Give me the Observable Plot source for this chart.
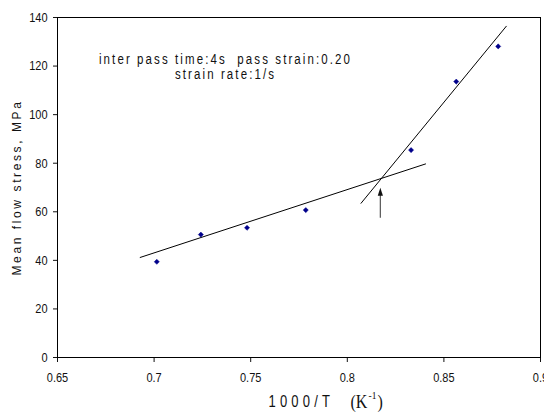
<!DOCTYPE html>
<html>
<head>
<meta charset="utf-8">
<script src="https://cdn.jsdelivr.net/npm/d3@7"></script>
<script src="https://cdn.jsdelivr.net/npm/@observablehq/plot@0.6"></script>
<style>
  html, body { margin: 0; padding: 0; background: #fff; }
  #chart { width: 544px; height: 414px; overflow: hidden; }
</style>
</head>
<body>
<div id="chart"></div>
<script>
// ---- data ----
const invT   = [0.7014, 0.7242, 0.7481, 0.7785, 0.833, 0.8564, 0.8781]; // 1000/T (K^-1)
const stress = [39.4, 50.6, 53.4, 60.7, 85.4, 113.6, 128.1];           // MPa
const fitLowX  = [0.6928, 0.8405];
const fitLowY  = [41.2, 79.7];
const fitHighX = [0.8071, 0.8823];
const fitHighY = [63.5, 136.4];
const arrowX = [0.8171, 0.8171];   // tail, tip
const arrowY = [57.5, 69.8];
const xTicks = [0.65, 0.7, 0.75, 0.8, 0.85, 0.9];
const yTicks = [0, 20, 40, 60, 80, 100, 120, 140];
const annotLines = ["inter pass time:4s  pass strain:0.20", "strain rate:1/s"];
const yLabel = "Mean flow stress, MPa";
const xTitleMain = "1000/T";

const SANS = "'Liberation Sans', Arial, sans-serif";
const SERIF = "'Liberation Serif', 'Times New Roman', serif";

const points = invT.map((x, i) => ({x, y: stress[i]}));
const lowLine = fitLowX.map((x, i) => ({x, y: fitLowY[i]}));
const highLine = fitHighX.map((x, i) => ({x, y: fitHighY[i]}));

// narrow filled triangle for the arrow head (tip at top)
const headSymbol = {
  draw(ctx) {
    ctx.moveTo(0, -4.5);
    ctx.lineTo(2.6, 3.5);
    ctx.lineTo(-2.6, 3.5);
    ctx.closePath();
  }
};

const frameCx = (57 + 540) / 2;

const chart = Plot.plot({
  width: 544,
  height: 414,
  marginLeft: 57,
  marginRight: 4,
  marginTop: 17,
  marginBottom: 57,
  style: {fontFamily: SANS, fontSize: "11px", color: "#111", background: "#fff", overflow: "visible"},
  x: {domain: [0.65, 0.9]},
  y: {domain: [0, 140]},
  marks: [
    Plot.axisX({ticks: xTicks, tickSize: 5, tickPadding: 11, label: null, tickFormat: d => String(d)}),
    Plot.axisY({ticks: yTicks, tickSize: 4, tickPadding: 6, label: null}),
    Plot.frame({stroke: "#000", strokeWidth: 1}),
    Plot.line(lowLine, {x: "x", y: "y", stroke: "#000", strokeWidth: 1}),
    Plot.line(highLine, {x: "x", y: "y", stroke: "#000", strokeWidth: 1}),
    Plot.link([0], {x1: () => arrowX[0], y1: () => arrowY[0], x2: () => arrowX[1], y2: () => arrowY[1] - 1.8, stroke: "#555", strokeWidth: 1.2}),
    Plot.dot([0], {x: () => arrowX[1], y: () => arrowY[1] - 1.8, symbol: headSymbol, fill: "#111", stroke: "none"}),
    Plot.dot(points, {x: "x", y: "y", symbol: "diamond2", r: 2.3, fill: "#00008b", stroke: "#00008b", strokeWidth: 0.5}),
    Plot.text([annotLines.join("\n")], {
      text: d => d, frameAnchor: "top", dx: 225 - frameCx, dy: 59,
      textAnchor: "middle", lineAnchor: "bottom", lineHeight: 1.09,
      fontSize: 11.5, fill: "#111"
    }),
    Plot.text([yLabel], {
      text: d => d, frameAnchor: "left", rotate: -90, dx: -40.5,
      textAnchor: "middle", lineAnchor: "middle",
      fontSize: 12, fill: "#111"
    }),
    Plot.text([xTitleMain], {
      text: d => d, frameAnchor: "bottom", dx: 268 - frameCx, dy: 49,
      textAnchor: "start", lineAnchor: "bottom", fontSize: 13, fill: "#111"
    }),
    Plot.text(["(K"], {
      text: d => d, frameAnchor: "bottom", dx: 350 - frameCx, dy: 50,
      textAnchor: "start", lineAnchor: "bottom", fontSize: 16, fontFamily: SERIF, fill: "#111"
    }),
    Plot.text(["-1"], {
      text: d => d, frameAnchor: "bottom", dx: 368 - frameCx, dy: 41,
      textAnchor: "start", lineAnchor: "bottom", fontSize: 9.5, fontFamily: SERIF, fill: "#111"
    }),
    Plot.text([")"], {
      text: d => d, frameAnchor: "bottom", dx: 377 - frameCx, dy: 50,
      textAnchor: "start", lineAnchor: "bottom", fontSize: 16, fontFamily: SERIF, fill: "#111"
    })
  ]
});

document.getElementById("chart").appendChild(chart);

// vertical stretch of glyphs about their own centre (tall, narrow lettering as in the reference)
function stretch(el, sy) {
  const b = el.getBBox();
  const cy = b.y + b.height / 2;
  const base = el.getAttribute("transform") || "";
  el.setAttribute("transform", `${base} translate(0,${cy}) scale(1,${sy}) translate(0,${-cy})`);
}
chart.querySelectorAll("text").forEach(t => {
  const s = t.textContent;
  const g = t.closest("g[aria-label]");
  const al = g ? g.getAttribute("aria-label") : "";
  if (/tick label/.test(al)) stretch(t, 1.22);
  else if (s.startsWith("inter pass")) { t.style.letterSpacing = "2.1px"; stretch(t, 1.2); }
  else if (s === yLabel) { t.style.letterSpacing = "2.6px"; }
  else if (s === xTitleMain) { t.style.letterSpacing = "4.2px"; stretch(t, 1.2); }
  else if (s === "(K" || s === ")" || s === "-1") { stretch(t, 1.15); }
});
</script>
</body>
</html>
